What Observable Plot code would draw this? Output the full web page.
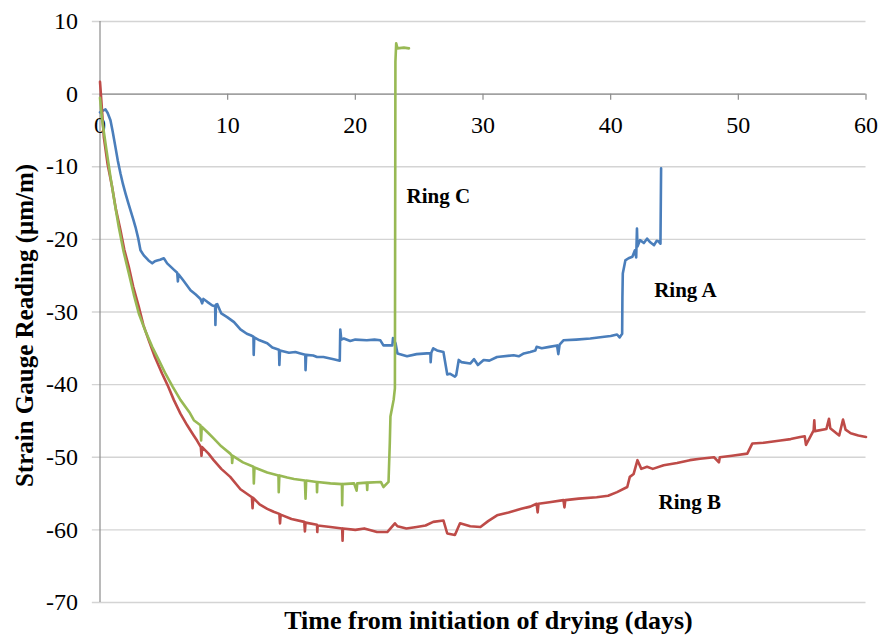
<!DOCTYPE html>
<html>
<head>
<meta charset="utf-8">
<script src="https://cdn.jsdelivr.net/npm/d3@7"></script>
<script src="https://cdn.jsdelivr.net/npm/@observablehq/plot@0.6"></script>
<style>
  html, body { margin: 0; padding: 0; background: #fff; }
  #chart svg { display: block; }
</style>
</head>
<body>
<div id="chart"></div>
<script>
// ---- data: [days, strain µm/m] ----
const ringA = [[0,-2.5],[0.2,-2.3],[0.43,-2.1],[0.6,-2.6],[0.82,-3.6],[1.0,-5.2],[1.21,-7.3],[1.4,-9.2],[1.6,-10.9],[1.8,-12.4],[2.0,-13.7],[2.2,-14.9],[2.39,-16],[2.6,-17.2],[2.78,-18.3],[3.0,-19.9],[3.17,-21.5],[3.43,-22.2],[3.8,-22.9],[4.09,-23.3],[4.3,-23.0],[4.48,-22.9],[4.7,-22.8],[5.0,-22.6],[5.26,-23.3],[5.8,-24.2],[6.05,-24.6],[6.1,-25.8],[6.15,-24.8],[6.5,-25.6],[7.09,-27],[7.5,-27.6],[7.87,-28.2],[8.0,-28.8],[8.1,-28.2],[8.4,-28.6],[8.8,-29.1],[9.02,-29.2],[9.04,-31.8],[9.08,-29.0],[9.18,-28.9],[9.5,-30.2],[9.96,-30.7],[10.5,-31.4],[11.0,-32.4],[11.5,-33.0],[11.8,-33.2],[12.02,-33.4],[12.04,-35.9],[12.08,-33.5],[12.5,-33.9],[13.1,-34.3],[13.5,-34.9],[14.02,-35.2],[14.05,-37.3],[14.1,-35.3],[14.8,-35.6],[15.3,-35.5],[15.7,-35.7],[16.08,-35.9],[16.1,-38.0],[16.15,-35.9],[16.7,-36.0],[17.0,-36.2],[17.5,-36.2],[18.3,-36.5],[18.78,-36.7],[18.82,-32.4],[18.9,-33.8],[19.1,-33.65],[19.6,-34.0],[20.0,-33.8],[20.9,-33.9],[21.5,-33.8],[21.96,-33.9],[22.2,-34.6],[22.9,-34.6],[22.95,-33.6],[23.15,-34.3],[23.3,-35.7],[24.05,-36.1],[24.8,-35.8],[25.6,-35.7],[25.88,-35.7],[25.9,-36.9],[25.95,-35.6],[26.1,-35.0],[26.4,-35.3],[26.9,-35.5],[27.2,-38.6],[27.4,-38.5],[27.8,-38.9],[27.9,-38.7],[28.1,-36.6],[28.3,-36.9],[29.0,-37.1],[29.3,-36.5],[29.6,-37.3],[30.05,-36.6],[30.5,-36.7],[31.1,-36.2],[32.4,-35.95],[32.8,-36.1],[33.2,-35.7],[33.7,-35.5],[34.1,-35.3],[34.2,-34.8],[34.6,-35.0],[35.2,-34.8],[35.8,-34.6],[35.9,-35.8],[36.0,-34.5],[36.3,-33.9],[37.3,-33.8],[38.4,-33.65],[39.5,-33.4],[40.0,-33.3],[40.5,-33.1],[40.7,-33.5],[40.9,-33.0],[40.92,-28],[40.95,-24.7],[41.15,-22.9],[41.4,-22.6],[41.7,-22.4],[41.9,-21.5],[42.0,-22.5],[42.06,-18.5],[42.1,-21.0],[42.3,-20.1],[42.6,-20.5],[42.85,-19.9],[43.1,-20.4],[43.4,-20.8],[43.6,-20.2],[43.76,-20.3],[43.9,-20.6],[43.95,-10.2]];

const ringB = [[0,1.7],[0.05,0.5],[0.3,-5.9],[0.6,-9.7],[0.95,-12.8],[1.25,-15.9],[1.6,-18.7],[1.9,-21.4],[2.26,-23.8],[2.6,-26.5],[3.04,-29.3],[3.4,-31.8],[3.82,-33.9],[4.3,-36.2],[4.87,-38.5],[5.3,-40.1],[5.78,-42.1],[6.3,-44.0],[6.83,-45.6],[7.3,-46.9],[7.6,-47.7],[7.9,-48.6],[7.95,-49.8],[8.0,-48.6],[8.5,-49.5],[8.9,-50.4],[9.5,-51.6],[10.2,-52.7],[11.0,-54.4],[11.9,-55.5],[11.95,-57.0],[12.0,-55.6],[12.5,-56.5],[13.1,-57.1],[13.6,-57.5],[14.05,-57.8],[14.1,-59.1],[14.15,-57.9],[15.0,-58.5],[16.0,-58.9],[16.05,-60.2],[16.1,-59.0],[17.0,-59.3],[17.02,-60.3],[17.05,-59.4],[18.05,-59.6],[18.97,-59.8],[19.0,-61.5],[19.03,-59.8],[20.0,-60.0],[20.7,-59.8],[21.7,-60.3],[22.5,-60.3],[23.1,-59.1],[23.3,-59.5],[24.0,-59.8],[24.8,-59.6],[25.5,-59.4],[26.1,-58.9],[26.9,-58.7],[27.2,-60.5],[27.8,-60.7],[28.2,-59.1],[29.0,-59.5],[29.8,-59.6],[30.4,-58.8],[31.1,-58.0],[32.0,-57.6],[33.0,-57.1],[33.7,-56.8],[34.2,-56.4],[34.28,-57.6],[34.35,-56.4],[35.2,-56.2],[36.3,-55.9],[36.38,-56.9],[36.45,-55.9],[37.5,-55.7],[38.9,-55.5],[39.8,-55.3],[40.5,-54.8],[41.3,-54.1],[41.5,-52.7],[41.8,-52.3],[42.1,-50.4],[42.4,-51.6],[42.85,-51.3],[43.3,-51.6],[44.15,-51.1],[45.2,-50.8],[46.2,-50.4],[47.0,-50.2],[48.1,-50.0],[48.48,-50.7],[48.55,-50.0],[49.5,-49.8],[50.7,-49.5],[51.1,-48.1],[52.0,-48.0],[53.3,-47.7],[54.1,-47.5],[54.85,-47.2],[55.2,-47.1],[55.3,-48.3],[55.9,-46.3],[55.95,-44.9],[56.0,-46.4],[56.9,-46.1],[57.1,-44.7],[57.2,-46.0],[57.9,-47.0],[58.2,-44.8],[58.4,-46.2],[58.8,-46.7],[59.4,-47.0],[60.0,-47.2]];

const ringC = [[0,-0.5],[0.17,-3.6],[0.5,-7.6],[0.82,-11.4],[1.15,-15.0],[1.47,-18.3],[1.85,-21.7],[2.26,-24.7],[2.65,-27.6],[3.04,-30.2],[3.55,-32.6],[4.09,-34.8],[4.6,-36.6],[5.13,-38.5],[5.7,-40.3],[6.3,-42.1],[7.0,-43.8],[7.35,-44.9],[7.87,-45.6],[7.92,-47.7],[7.97,-45.8],[8.5,-46.7],[8.9,-47.4],[9.5,-48.5],[10.2,-49.5],[10.33,-49.8],[10.35,-50.8],[10.4,-49.8],[11.2,-50.7],[12.02,-51.3],[12.05,-53.6],[12.1,-51.4],[13.1,-52.1],[13.98,-52.5],[14.0,-54.8],[14.05,-52.5],[14.66,-52.8],[15.2,-53.0],[16.05,-53.2],[16.1,-55.7],[16.15,-53.2],[16.98,-53.4],[17.0,-54.8],[17.03,-53.4],[18.05,-53.6],[18.95,-53.7],[18.97,-56.6],[19.0,-53.7],[19.9,-53.6],[20.1,-54.6],[20.15,-53.6],[20.9,-53.5],[20.93,-54.5],[20.96,-53.5],[22.0,-53.4],[22.2,-54.1],[22.6,-53.4],[22.7,-48],[22.75,-44.4],[23.0,-42.1],[23.1,-40.5],[23.14,4.5],[23.2,7.0],[23.3,6.3],[23.8,6.4],[24.2,6.3]];

const xTicks = [0, 10, 20, 30, 40, 50, 60];
const yTicks = [10, 0, -10, -20, -30, -40, -50, -60, -70];

const seriesNames = ["Ring A", "Ring B", "Ring C"];
const seriesColors = ["#4a7ebb", "#be4b48", "#98b954"];
// annotation anchor points (data units)
const labelDays = [45.85, 46.2, 26.5];
const labelValues = [-27.0, -56.2, -14.1];

const xTitle = "Time from initiation of drying (days)";
const yTitle = "Strain Gauge Reading (μm/m)";

// ---- build tables ----
const toRows = (name, pts) => pts.map(([d, v]) => ({series: name, day: d, value: v}));
const rowsA = toRows("Ring A", ringA);
const rowsB = toRows("Ring B", ringB);
const rowsC = toRows("Ring C", ringC);
const labels = seriesNames.map((s, i) => ({series: s, day: labelDays[i], value: labelValues[i]}));

const font = "'Liberation Serif', 'Times New Roman', serif";
const lineOpts = {x: "day", y: "value", stroke: "series", strokeWidth: 2.6, strokeLinejoin: "round"};

const chart = Plot.plot({
  width: 880,
  height: 635,
  marginLeft: 99.5,
  marginRight: 14.5,
  marginTop: 21,
  marginBottom: 33,
  style: {fontFamily: font, background: "#fff", color: "#000"},
  x: {domain: [0, 60], axis: null},
  y: {domain: [-70, 10], axis: null},
  color: {domain: seriesNames, range: seriesColors},
  marks: [
    // gridlines (extend slightly left as tick marks)
    Plot.ruleY(yTicks, {y: d => d, x1: -0.6, x2: 60, stroke: "#d4d4d4", strokeWidth: 1.3}),
    // vertical axis line
    Plot.ruleX([0], {y1: -70, y2: 10, stroke: "#8c8c8c", strokeWidth: 1.2}),
    // horizontal axis at zero
    Plot.ruleY([0], {x1: 0, x2: 60, stroke: "#8c8c8c", strokeWidth: 1.3}),
    Plot.ruleX(xTicks, {x: d => d, y1: 0, y2: -0.85, stroke: "#8c8c8c", strokeWidth: 1.2}),
    // tick labels
    Plot.text(yTicks, {x: 0, y: d => d, text: d => String(d), dx: -22, textAnchor: "end", fontSize: 24, fill: "#000"}),
    Plot.text(xTicks, {x: d => d, y: 0, text: d => String(d), dy: 31, fontSize: 24, fill: "#000"}),
    // series
    Plot.line(rowsA, lineOpts),
    Plot.line(rowsB, lineOpts),
    Plot.line(rowsC, lineOpts),
    // series labels
    Plot.text(labels, {x: "day", y: "value", text: "series", fontSize: 21, fontWeight: "bold", fill: "#000"}),
    // axis titles
    Plot.text([xTitle], {frameAnchor: "bottom", textAnchor: "middle", lineAnchor: "middle", dx: 5.5, dy: 18, fontSize: 26, fontWeight: "bold", fill: "#000"}),
    Plot.text([yTitle], {frameAnchor: "left", textAnchor: "middle", lineAnchor: "middle", dx: -75, dy: 13.5, rotate: -90, fontSize: 25, fontWeight: "bold", fill: "#000"})
  ]
});
document.getElementById("chart").appendChild(chart);
</script>
</body>
</html>
